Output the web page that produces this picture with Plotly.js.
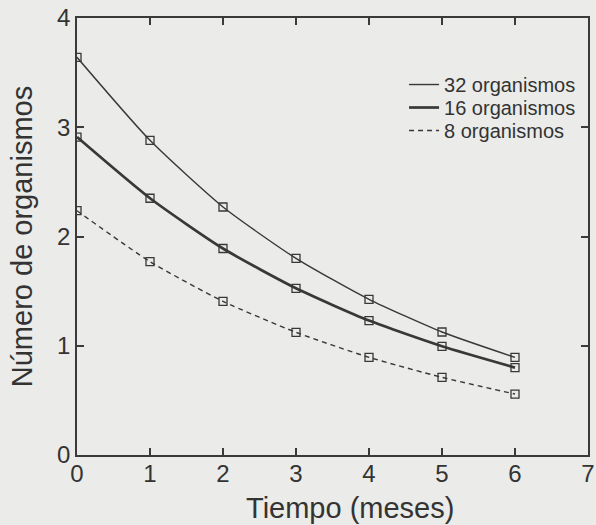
<!DOCTYPE html>
<html><head><meta charset="utf-8">
<script src="https://cdn.plot.ly/plotly-3.0.1.min.js"></script>
<style>html,body{margin:0;padding:0;background:#ebebe9;}</style>
</head><body>
<div id="chart" style="width:596px;height:525px;"></div>
<script>
const months = [0, 1, 2, 3, 4, 5, 6];
const org32 = [3.64, 2.88, 2.27, 1.80, 1.425, 1.126, 0.894];
const org16 = [2.91, 2.35, 1.89, 1.526, 1.23, 0.995, 0.80];
const org8  = [2.236, 1.77, 1.407, 1.123, 0.894, 0.711, 0.558];
const seriesNames = ['32 organismos', '16 organismos', '8 organismos'];
const xTicks = [0, 1, 2, 3, 4, 5, 6, 7];
const yTicks = [0, 1, 2, 3, 4];
const xTitle = 'Tiempo (meses)';
const yTitle = 'Número de organismos';

const FONT = 'Liberation Sans';
const TXT = '#333333';
const lineCol = '#383838';
const styles = [
  {width: 1.4, dash: 'solid'},
  {width: 2.7, dash: 'solid'},
  {width: 1.4, dash: '5px,4px'}
];
const legendIds = ['legend', 'legend2', 'legend3'];
const legendY = [0.8924, 0.8398, 0.7872];
const ys = [org32, org16, org8];
const traces = [];
ys.forEach((y, i) => {
  traces.push({
    x: months, y: y, mode: 'lines+markers', showlegend: false,
    line: {color: lineCol, width: styles[i].width, dash: styles[i].dash, shape: 'spline', smoothing: 0.6},
    marker: {symbol: 'square-open', size: 8, color: lineCol, line: {width: 1.3, color: lineCol}}
  });
});
ys.forEach((y, i) => {
  traces.push({
    x: [null], y: [null], mode: 'lines', name: seriesNames[i], showlegend: true,
    legend: legendIds[i],
    line: {color: lineCol, width: styles[i].width, dash: styles[i].dash}
  });
});

function axis(extra) {
  return Object.assign({
    showgrid: false, zeroline: false, showline: true, mirror: 'allticks',
    linecolor: '#3a3a3a', linewidth: 1.8,
    ticks: 'inside', ticklen: 7, tickwidth: 1.5, tickcolor: '#3a3a3a',
    tickfont: {family: FONT, size: 24, color: TXT}
  }, extra);
}
const layout = {
  width: 596, height: 525,
  margin: {l: 77, r: 8, t: 18, b: 70},
  paper_bgcolor: '#ebebe9', plot_bgcolor: '#ebebe9',
  xaxis: axis({
    range: [0, 7], tickmode: 'array', tickvals: xTicks, ticktext: xTicks.map(String),
    ticklabeloverflow: 'allow', ticklabelstandoff: -4
  }),
  yaxis: axis({
    range: [0, 4], tickmode: 'array', tickvals: yTicks, ticktext: yTicks.map(String),
    title: {text: yTitle, font: {family: FONT, size: 29, color: TXT}, standoff: 16}
  }),
  annotations: [{
    text: xTitle, xref: 'paper', yref: 'paper', x: 0.534, y: -0.121,
    xanchor: 'center', yanchor: 'middle', showarrow: false,
    font: {family: FONT, size: 29, color: TXT}
  }],
  showlegend: true
};
legendIds.forEach((id, i) => {
  layout[id] = {
    x: 0.64, y: legendY[i], xanchor: 'left', yanchor: 'top',
    bgcolor: 'rgba(0,0,0,0)',
    font: {family: FONT, size: 20, color: TXT}
  };
});
Plotly.newPlot('chart', traces, layout, {displayModeBar: false});
</script>
</body></html>
